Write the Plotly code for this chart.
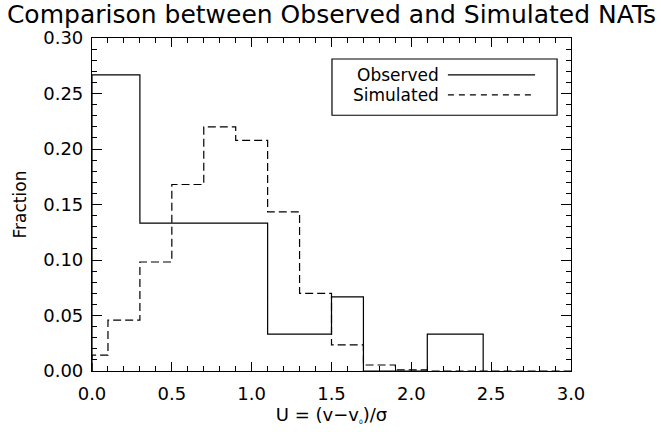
import plotly.graph_objects as go

# Observed distribution: irregular bin edges and fraction per bin
obs_edges = [0.0, 0.3, 1.1, 1.5, 1.7, 2.1, 2.45]
obs_frac = [0.2667, 0.1333, 0.0333, 0.0667, 0.0, 0.0333]

# Simulated distribution
sim_edges = [0.0, 0.1, 0.3, 0.5, 0.7, 0.9, 1.1, 1.3, 1.5, 1.7, 1.9, 2.1, 3.0]
sim_frac = [0.0143, 0.0458, 0.0982, 0.168, 0.220, 0.2077, 0.1434,
            0.0699, 0.0235, 0.0054, 0.001, 0.0]

x_ticks = [0.0, 0.5, 1.0, 1.5, 2.0, 2.5, 3.0]
x_tick_text = ["0.0", "0.5", "1.0", "1.5", "2.0", "2.5", "3.0"]
y_ticks = [0.0, 0.05, 0.10, 0.15, 0.20, 0.25, 0.30]
y_tick_text = ["0.00", "0.05", "0.10", "0.15", "0.20", "0.25", "0.30"]

series_names = ["Observed", "Simulated"]


def step_outline(edges, values):
    """Closed step outline of a histogram, starting and ending on zero."""
    xs, ys = [edges[0]], [0.0]
    for i, v in enumerate(values):
        xs += [edges[i], edges[i + 1]]
        ys += [v, v]
    xs.append(edges[-1])
    ys.append(0.0)
    return xs, ys


FONT = "DejaVu Sans, sans-serif"

fig = go.Figure()

ox, oy = step_outline(obs_edges, obs_frac)
fig.add_trace(go.Scatter(x=ox, y=oy, mode="lines", name=series_names[0],
                         line=dict(color="black", width=1.2),
                         showlegend=False, cliponaxis=False))

sx, sy = step_outline(sim_edges, sim_frac)
fig.add_trace(go.Scatter(x=sx, y=sy, mode="lines", name=series_names[1],
                         line=dict(color="black", width=1.2, dash="8px,4px"),
                         showlegend=False, cliponaxis=False))

# Invisible trace so the top/right tick axes are drawn
fig.add_trace(go.Scatter(x=[0], y=[0], xaxis="x2", yaxis="y2", mode="markers",
                         marker=dict(opacity=0), showlegend=False,
                         hoverinfo="skip"))

# Legend box with labels on the left and line samples on the right
row_y = [0.889, 0.829]
shapes = [
    dict(type="rect", xref="paper", yref="paper",
         x0=0.501, x1=0.971, y0=0.768, y1=0.937,
         line=dict(color="black", width=1.2), fillcolor="white", layer="below"),
    dict(type="line", xref="paper", yref="paper",
         x0=0.743, x1=0.925, y0=row_y[0], y1=row_y[0],
         line=dict(color="black", width=1.2)),
    dict(type="line", xref="paper", yref="paper",
         x0=0.743, x1=0.925, y0=row_y[1], y1=row_y[1],
         line=dict(color="black", width=1.2, dash="6px,5px")),
]
annotations = [
    dict(text=series_names[i], xref="paper", yref="paper", x=0.728, y=row_y[i],
         xanchor="right", yanchor="middle", showarrow=False,
         font=dict(family=FONT, size=17, color="black"))
    for i in range(2)
]

axis_common = dict(
    showline=True, linecolor="black", linewidth=1.2,
    ticks="inside", tickcolor="black", tickwidth=1, showgrid=False,
    zeroline=False, tickfont=dict(family=FONT, size=18, color="black"),
)
x_minor = dict(ticks="inside", dtick=0.1, ticklen=5,
               tickcolor="black", tickwidth=1, showgrid=False)
y_minor = dict(ticks="inside", dtick=0.01, ticklen=5,
               tickcolor="black", tickwidth=1, showgrid=False)

fig.update_layout(
    width=661, height=432,
    margin=dict(l=92, r=90, t=38, b=59),
    paper_bgcolor="white", plot_bgcolor="white",
    title=dict(text="Comparison between Observed and Simulated NATs",
               x=0.5, xref="paper", xanchor="center",
               y=0.968, yref="container", yanchor="middle",
               font=dict(family=FONT, size=25, color="black")),
    shapes=shapes, annotations=annotations,
    xaxis=dict(range=[0, 3.0], tickvals=x_ticks, ticktext=x_tick_text,
               ticklen=9, ticklabelstandoff=6, minor=x_minor,
               title=dict(text="U = (v−v<sub><span style='font-size:6px'>0</span></sub>)/σ",
                          font=dict(family=FONT, size=18, color="black"),
                          standoff=4),
               **axis_common),
    yaxis=dict(range=[0, 0.30], tickvals=y_ticks, ticktext=y_tick_text,
               ticklen=10, ticklabelstandoff=4, minor=y_minor,
               title=dict(text="Fraction",
                          font=dict(family=FONT, size=17, color="black"),
                          standoff=12),
               **axis_common),
    xaxis2=dict(overlaying="x", matches="x", side="top", anchor="y2",
                tickvals=x_ticks, showticklabels=False, ticklen=9,
                minor=x_minor, **axis_common),
    yaxis2=dict(overlaying="y", matches="y", side="right", anchor="x2",
                tickvals=y_ticks, showticklabels=False, ticklen=10,
                minor=y_minor, **axis_common),
)

fig.write_html("out.html")
